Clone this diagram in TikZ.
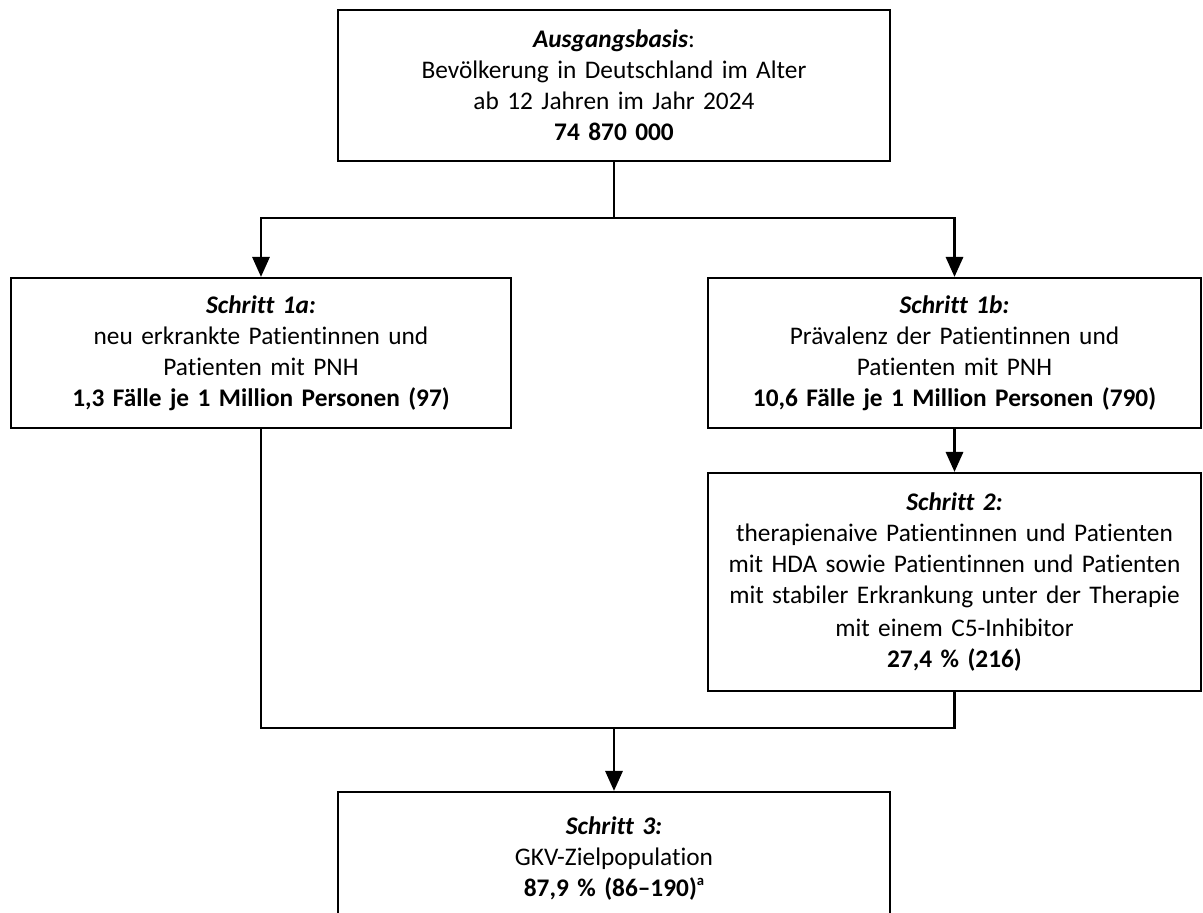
\documentclass[tikz,border=0pt]{standalone}
\usepackage{fontspec}
\setmainfont{Carlito}[Ligatures={TeX,NoCommon}]
\usetikzlibrary{arrows.meta}
\definecolor{boxline}{HTML}{000000}

\begin{document}
\begin{tikzpicture}[x=0.75pt, y=-0.75pt,
    stepbox/.style={draw=boxline, line width=1.7pt, inner sep=0pt, align=center,
          font=\fontsize{19pt}{23.25pt}\selectfont},
    flow/.style={draw=boxline, line width=1.7pt},
    arr/.style={flow, -{Triangle[length=15pt, width=13pt]}}]
    \useasboundingbox (0,0) rectangle (1203,913);

    \node[stepbox, text width=414pt, minimum height=113.25pt] (basis) at (614,85.5) {%
      \textbf{\textit{Ausgangsbasis}}:\\
      Bevölkerung in Deutschland im Alter\\
      ab 12 Jahren im Jahr 2024\\
      \textbf{74 870 000}
    };
    \node[stepbox, text width=375pt, minimum height=112.5pt] (s1a) at (261,353) {%
      \textbf{\textit{Schritt 1a:}}\\
      neu erkrankte Patientinnen und\\
      Patienten mit PNH\\
      \textbf{1,3 Fälle je 1 Million Personen (97)}
    };
    \node[stepbox, text width=369.75pt, minimum height=112.5pt] (s1b) at (954.5,353) {%
      \textbf{\textit{Schritt 1b:}}\\
      Prävalenz der Patientinnen und\\
      Patienten mit PNH\\
      \textbf{10,6 Fälle je 1 Million Personen (790)}
    };
    \node[stepbox, text width=369.75pt, minimum height=163.5pt] (s2) at (954.5,582) {%
      \textbf{\textit{Schritt 2:}}\\
      therapienaive Patientinnen und Patienten\\
      mit HDA sowie Patientinnen und Patienten\\
      mit stabiler Erkrankung unter der Therapie\\[2pt]
      mit einem C5-Inhibitor\\
      \textbf{27,4 \% (216)}
    };
    \node[stepbox, text width=414pt, minimum height=99.75pt] (s3) at (614,858.5) {%
      \textbf{\textit{Schritt 3:}}\\
      GKV-Zielpopulation\\
      \textbf{87,9 \% (86--190)\raisebox{8.5pt}{\fontsize{11pt}{11pt}\selectfont a}}
    };

    \coordinate (split) at (614,218);
    \coordinate (join) at (614,728);

    \draw[flow] (basis.south) -- (split);
    \draw[arr] (split) -| (s1a.north);
    \draw[arr] (split) -| (s1b.north);
    \draw[arr] (s1b.south) -- (s2.north);
    \draw[flow] (s1a.south) |- (join);
    \draw[flow] (s2.south) |- (join);
    \draw[arr] (join) -- (s3.north);
  \end{tikzpicture}
\end{document}
